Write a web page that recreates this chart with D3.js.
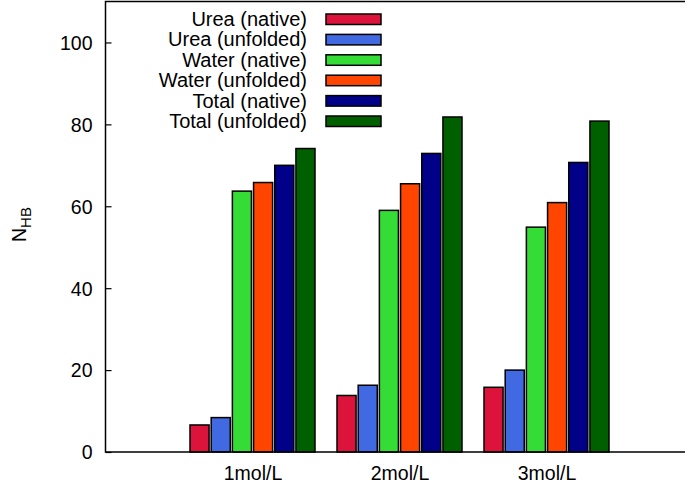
<!DOCTYPE html>
<html>
<head>
<meta charset="utf-8">
<script src="https://cdn.jsdelivr.net/npm/d3@7"></script>
<style>
  html, body { margin: 0; padding: 0; background: #fff; }
  svg { display: block; font-family: "Liberation Sans", Arial, Helvetica, sans-serif; }
</style>
</head>
<body>
<svg id="chart" width="685" height="486"></svg>
<script>
// Hydrogen-bond counts per urea concentration
const categories = ["1mol/L", "2mol/L", "3mol/L"];
const seriesNames = ["Urea (native)", "Urea (unfolded)", "Water (native)", "Water (unfolded)", "Total (native)", "Total (unfolded)"];
const seriesColors = ["#dc143c", "#4169e1", "#35dc35", "#ff4500", "#000088", "#006000"];
const ureaNative = [6.6, 13.8, 15.8];
const ureaUnfolded = [8.4, 16.3, 20.0];
const waterNative = [63.7, 59.0, 54.9];
const waterUnfolded = [65.8, 65.5, 60.9];
const totalNative = [70.0, 72.9, 70.7];
const totalUnfolded = [74.1, 81.8, 80.8];
const yTicks = [0, 20, 40, 60, 80, 100];

const seriesValues = [ureaNative, ureaUnfolded, waterNative, waterUnfolded, totalNative, totalUnfolded];

const svg = d3.select("#chart");
const plotLeft = 105.5, plotRight = 693.5, plotTop = 1.5, plotBottom = 452;

const x = d3.scaleLinear().domain([0, 4]).range([plotLeft, plotRight]);
const y = d3.scaleLinear().domain([0, 110]).range([plotBottom, plotTop]);
const inner = d3.scaleBand().domain(seriesNames).range([-62.5, 62.5]).paddingInner(0.1);

// bars
const groups = svg.append("g").selectAll("g")
  .data(categories)
  .join("g")
  .attr("transform", (d, i) => `translate(${x(i + 1)},0)`);

groups.selectAll("rect")
  .data((d, ci) => seriesNames.map((s, si) => ({ s, si, v: seriesValues[si][ci] })))
  .join("rect")
  .attr("x", d => inner(d.s))
  .attr("width", inner.bandwidth())
  .attr("y", d => y(d.v))
  .attr("height", d => y(0) - y(d.v))
  .attr("fill", d => seriesColors[d.si])
  .attr("stroke", "#000")
  .attr("stroke-width", 1.5);

// frame
svg.append("path")
  .attr("d", `M${plotRight},${plotTop}H${plotLeft}V${plotBottom}H${plotRight}`)
  .attr("fill", "none")
  .attr("stroke", "#000")
  .attr("stroke-width", 1.5);

// y axis with inward ticks
const yAxis = d3.axisRight(y).tickValues(yTicks).tickSize(6).tickFormat(d3.format("d"));
const yg = svg.append("g").attr("transform", `translate(${plotLeft},0)`).call(yAxis);
yg.select(".domain").remove();
yg.selectAll(".tick line").attr("stroke", "#000").attr("stroke-width", 1.2);
yg.selectAll(".tick text")
  .attr("x", -13)
  .attr("dy", "0.35em")
  .attr("text-anchor", "end")
  .attr("font-size", 19.5)
  .attr("font-family", "Liberation Sans, Arial, sans-serif")
  .attr("fill", "#000");

// x category labels
const xAxis = d3.axisBottom(x).tickValues([1, 2, 3]).tickSize(0).tickFormat((d, i) => categories[i]);
const xg = svg.append("g").attr("transform", `translate(0,${plotBottom})`).call(xAxis);
xg.select(".domain").remove();
xg.selectAll(".tick text")
  .attr("y", 0)
  .attr("dy", 28)
  .attr("font-size", 19.5)
  .attr("font-family", "Liberation Sans, Arial, sans-serif")
  .attr("fill", "#000");

// y axis title N_HB
const yTitle = svg.append("text")
  .attr("transform", "translate(26,242) rotate(-90)")
  .attr("font-size", 19.5)
  .attr("fill", "#000");
yTitle.append("tspan").text("N");
yTitle.append("tspan").attr("font-size", 15).attr("dy", 5).text("HB");

// legend
const legend = svg.append("g").selectAll("g")
  .data(seriesNames)
  .join("g")
  .attr("transform", (d, i) => `translate(0,${19 + i * 20.4})`);
legend.append("text")
  .attr("x", 307)
  .attr("dy", "0.35em")
  .attr("text-anchor", "end")
  .attr("font-size", 20)
  .attr("fill", "#000")
  .text(d => d);
legend.append("rect")
  .attr("x", 326)
  .attr("y", -5)
  .attr("width", 55)
  .attr("height", 10.5)
  .attr("fill", (d, i) => seriesColors[i])
  .attr("stroke", "#000")
  .attr("stroke-width", 1.5);
</script>
</body>
</html>
